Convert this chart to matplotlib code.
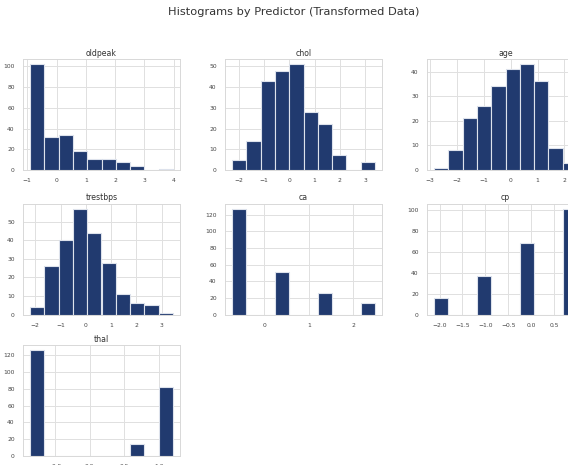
"""Histograms of the transformed heart-disease predictors (cropped screenshot look)."""

import matplotlib.pyplot as plt
import numpy as np
import seaborn as sns
from matplotlib.ticker import MultipleLocator

# --- data: 10-bin histogram counts and the data range each one covers ---
predictors = ["oldpeak", "chol", "age", "trestbps", "ca", "cp", "thal"]

oldpeak_counts = [102, 32, 34, 18, 11, 11, 8, 4, 0, 1]
chol_counts = [5, 14, 43, 48, 51, 28, 22, 7, 0, 4]
age_counts = [1, 8, 21, 26, 34, 41, 43, 36, 9, 3]
trestbps_counts = [4, 26, 40, 57, 44, 28, 11, 6, 5, 1]
ca_counts = [127, 0, 0, 51, 0, 0, 26, 0, 0, 14]
cp_counts = [16, 0, 0, 37, 0, 0, 68, 0, 0, 101]
thal_counts = [126, 0, 0, 0, 0, 0, 0, 14, 0, 82]

oldpeak_range = (-0.90, 3.97)
chol_range = (-2.27, 3.39)
age_range = (-2.84, 2.46)
trestbps_range = (-2.20, 3.44)
ca_range = (-0.73, 2.49)
cp_range = (-2.12, 1.00)
thal_range = (-0.86, 1.20)

counts = [oldpeak_counts, chol_counts, age_counts, trestbps_counts,
          ca_counts, cp_counts, thal_counts]
ranges = [oldpeak_range, chol_range, age_range, trestbps_range,
          ca_range, cp_range, thal_range]
x_steps = [1, 1, 1, 1, 1, 0.5, 0.5]

# --- style ---
sns.set_style("whitegrid")
plt.rcParams["font.family"] = ["DejaVu Sans"]
BAR = "#213a6f"
EDGE = "#dde2ec"

W, H = 568, 465
fig = plt.figure(figsize=(W / 100, H / 100), dpi=100)

# grid of axes in pixels (the right column runs off the canvas, as in the screenshot)
col_left = [23, 225, 427]
row_top = [59, 203.5, 345]
ax_w, ax_h = 157, 111

for i, (name, cnt, rng, step) in enumerate(zip(predictors, counts, ranges, x_steps)):
    r, c = divmod(i, 3)
    left = col_left[c] / W
    bottom = 1 - (row_top[r] + ax_h) / H
    ax = fig.add_axes([left, bottom, ax_w / W, ax_h / H])

    edges = np.linspace(rng[0], rng[1], len(cnt) + 1)
    centers = (edges[:-1] + edges[1:]) / 2
    ax.hist(centers, bins=edges, weights=cnt, color=BAR,
            edgecolor=EDGE, linewidth=0.8)

    ax.xaxis.set_major_locator(MultipleLocator(step))
    ax.set_title(name, fontsize=5.6, color="#333333", pad=2.5)
    ax.tick_params(labelsize=4.3, colors="#444444", pad=2.5)
    ax.grid(color="#e0e0e0", linewidth=0.7)
    for s in ax.spines.values():
        s.set_color("#d8d8d8")
        s.set_linewidth(0.7)

fig.text(294 / W, 1 - 12 / H, "Histograms by Predictor (Transformed Data)",
         ha="center", va="center", fontsize=8.2, color="#333333")

fig.savefig("out.png", dpi=100)
